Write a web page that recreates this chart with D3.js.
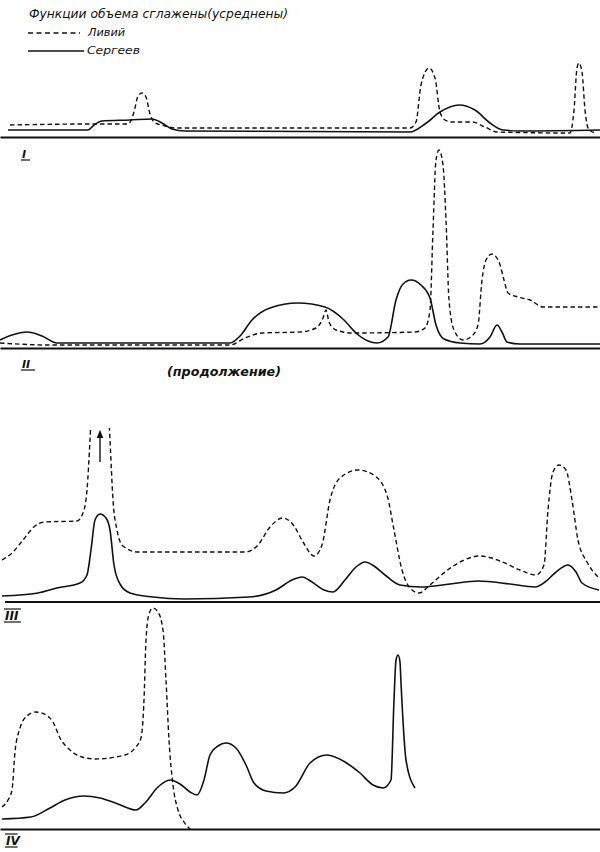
<!DOCTYPE html>
<html><head><meta charset="utf-8">
<script src="https://cdn.jsdelivr.net/npm/d3@7"></script>
<style>
html,body{margin:0;padding:0;background:#fff;}
svg{display:block;}
text{font-family:"DejaVu Sans",sans-serif;font-style:oblique;fill:#111;}
</style></head>
<body>
<script>
// ---- data (x: position units 0..120, y: volume units above baseline) ----
const titleText = "Функции объема сглажены(усреднены)";
const seriesNames = ["Ливий", "Сергеев"];
const panelLabels = ["I", "II", "III", "IV"];
const contText = "(продолжение)";

const livyI = [[2,6],[18,6.5],[25.6,6.5],[26.8,12.5],[27.6,20.5],[28.4,22],[29.2,20],[30,11.5],[30.8,7.5],[33,5.5],[35.2,4.5],[82,4.5],[83.2,7.5],[84.2,26],[85.8,34.5],[87,29.5],[88,12.5],[89,8.5],[90.4,7.5],[94.4,7.5],[97,5],[99.4,2.5],[114,2],[114.8,13.5],[115.4,34.5],[115.8,37],[116.4,32.5],[117,13.5],[117.8,3.5],[119.2,2]];
const sergeevI = [[1.6,3.5],[17.6,3.5],[18.8,6],[20.4,8],[26,8.5],[30.4,9],[32.4,7],[34.4,4],[37,3],[82,2.5],[85,6.5],[88,12.5],[91.8,16],[95,13.5],[98,7],[100.6,3.5],[104,3],[120,3.5]];

const livyII = [[0,2.5],[10,1.5],[46,1.5],[49,5],[52.4,7.5],[60,8],[63.2,10],[64.6,15],[65.2,19],[65.8,13],[67.2,9],[70.4,7.5],[83,8],[85,10],[86,19],[86.6,59],[87.2,94],[87.8,99],[88.6,91.5],[89.2,64],[89.8,24],[90.8,9],[92.6,4],[94.4,6],[95.6,11.5],[96.4,34],[97.2,44],[98.4,47],[99.8,43],[100.8,34],[101.6,27.5],[103.6,25.5],[106,24],[108.6,20.5],[120,20.5]];
const sergeevII = [[0,4],[2.4,6.5],[5.4,8],[8.4,6],[11.4,2.5],[46,2.5],[48,6],[50.4,14],[54,20],[59.6,22.5],[65,20.5],[68.8,14],[71.2,7.5],[73.6,3.5],[75.4,2.5],[77.6,5.5],[79.2,24],[80.6,32],[82.2,34],[84.2,31.5],[86,25],[87.2,11.5],[88.8,4.5],[92,2.5],[96,2],[98,5.5],[99.4,11.5],[100.4,8],[101.4,3],[104,2],[120,2]];

const livyIII = [[0.4,21],[2.4,24.5],[4.6,31],[7,38],[9,40],[15.4,40.5],[16.6,44.5],[17.4,56],[18,81],[18.4,101],[20,136],[21.6,101],[22,81],[22.6,51],[23.4,36],[24.6,28],[27.6,25],[49,25],[51.6,28.5],[54,37.5],[56.6,42],[58.8,38],[60.6,30],[62.8,23],[64.4,28.5],[66,51],[68,62],[71.6,66],[75,63],[77.4,53.5],[78.8,36],[80.4,16],[82,7],[83.8,4.5],[86,8.5],[89,15],[92.4,20.5],[96,23],[100,20.5],[104,16],[107.2,13.5],[108.8,18.5],[109.6,46],[110.6,65],[111.8,68.5],[113.2,66],[114.4,51],[115.6,31],[117.4,20],[119.8,12]];
const sergeevIII = [[0.4,3],[7.6,4.5],[11.4,7],[16,9.5],[17.4,13.5],[18.2,26],[19,41],[20,44],[21.2,42],[22,36],[22.8,18.5],[24,9],[26,4.5],[30.6,2.5],[36.8,1.5],[49.8,2.5],[55.2,6],[58.4,11],[60.4,12.5],[62.4,10],[64.8,6],[66.6,5],[69,11],[71.2,17.5],[73,20],[74.8,18],[77,13.5],[80,8.5],[84.2,7.5],[90,9],[95.6,10.5],[102,9],[107,7.5],[109,10],[111,14.5],[113.6,18.5],[115.2,15],[116.4,9.5],[119.8,6]];
const offScaleIII = {x: 20, from: 70, to: 84};

const livyIV = [[0.4,11],[1.6,14.5],[2.4,19.5],[3,38.5],[4,50.5],[5.4,56.5],[7.2,58.5],[9.2,57],[10.6,53.5],[12,45.5],[14,39.5],[16.4,36],[19,35],[25,37],[27,40.5],[28.2,45.5],[28.8,64.5],[29.2,94.5],[29.8,107.5],[30.6,110.5],[31.6,108.5],[32.6,99.5],[33.2,74.5],[33.8,44.5],[34.6,22],[35.6,9.5],[36.8,3.5],[38,0]];
const sergeevIV = [[0.4,5],[6.2,6],[10,10.5],[13,14.5],[16.8,16.5],[20,15.5],[23.6,12.5],[27.2,9.5],[29,13],[31.6,21],[34,24.5],[36,22.5],[38,18.5],[39.4,17],[40.8,24.5],[42,37],[43.6,41.5],[45.2,43],[47.2,40.5],[49.2,32],[50.8,23],[53.2,19],[56.6,18],[59.2,21.5],[62,33],[65.4,37],[69,33.5],[72,28],[74.6,22],[76.6,20.5],[78.2,24.5],[78.8,64.5],[79.2,84.5],[79.6,87],[80,83.5],[80.2,73],[81.2,34.5],[83,20.5]];

// ---- layout ----
const W = 600, H = 852;
const panels = [
  {label: panelLabels[0], base: 137, top: 60,  livy: livyI,   serg: sergeevI,   lab:[22,158], bars:"under"},
  {label: panelLabels[1], base: 348, top: 140, livy: livyII,  serg: sergeevII,  lab:[22,368], bars:"under"},
  {label: panelLabels[2], base: 602, top: 428, livy: livyIII, serg: sergeevIII, lab:[5,620],  bars:"both"},
  {label: panelLabels[3], base: 829, top: 600, livy: livyIV,  serg: sergeevIV,  lab:[6,845],  bars:"both"}
];

const svg = d3.select("body").append("svg").attr("width", W).attr("height", H);
const x = d3.scaleLinear().domain([0, 120]).range([0, W]);

const defs = svg.append("defs");
defs.append("marker").attr("id","arr").attr("viewBox","0 0 10 10").attr("refX",5).attr("refY",5)
  .attr("markerWidth",6).attr("markerHeight",8).attr("orient","auto")
  .append("path").attr("d","M0,1 L10,5 L0,9 Z").attr("fill","#111");

// title and legend
svg.append("text").attr("x", 29).attr("y", 18).attr("font-size", 12)
  .attr("textLength", 259).attr("lengthAdjust","spacingAndGlyphs").text(titleText);
const legY = [33, 51];
const legStyle = [{dash:"5,3.5"},{dash:null}];
seriesNames.forEach((n,i)=>{
  const l = svg.append("line").attr("x1",28).attr("x2",i?84:80).attr("y1",legY[i]).attr("y2",legY[i])
    .attr("stroke","#111").attr("stroke-width",1.3);
  if (legStyle[i].dash) l.attr("stroke-dasharray",legStyle[i].dash);
  svg.append("text").attr("x", i?87:88).attr("y", legY[i]+3).attr("font-size",11)
    .attr("textLength", i?53:37).attr("lengthAdjust","spacingAndGlyphs").text(n);
});

const line = d3.line().curve(d3.curveMonotoneX);

panels.forEach((p,i)=>{
  const y = d3.scaleLinear().domain([0,100]).range([p.base, p.base-200]);
  line.x(d=>x(d[0])).y(d=>y(d[1]));
  const g = svg.append("g");
  // baseline axis
  const ax = g.append("g").attr("transform",`translate(0,${p.base})`)
    .call(d3.axisBottom(x).tickValues([]).tickSizeOuter(0));
  ax.select(".domain").attr("stroke","#111").attr("stroke-width",1.8);
  if (i===2) ax.select(".domain").attr("d", `M${x(1)},0H${x(120)}`);

  const clipId = "clip"+i;
  defs.append("clipPath").attr("id",clipId).append("rect")
    .attr("x",0).attr("y",p.top).attr("width",W).attr("height",p.base - p.top + 20);

  g.append("path").datum(p.livy).attr("d", line).attr("fill","none")
    .attr("stroke","#111").attr("stroke-width",1.4).attr("stroke-dasharray","4.5,3")
    .attr("clip-path",`url(#${clipId})`);
  g.append("path").datum(p.serg).attr("d", line).attr("fill","none")
    .attr("stroke","#111").attr("stroke-width",1.6);

  // panel label
  const t = g.append("text").attr("x",p.lab[0]).attr("y",p.lab[1]).attr("font-size", i<2?11:12)
    .attr("font-family","Liberation Serif, serif").attr("font-weight","bold").text(p.label);
  const tw = p.label.length * (i<2?5:4.3) + 3;
  g.append("line").attr("x1",p.lab[0]-1).attr("x2",p.lab[0]+tw).attr("y1",p.lab[1]+2).attr("y2",p.lab[1]+2)
    .attr("stroke","#111").attr("stroke-width",1.2);
  if (p.bars==="both") g.append("line").attr("x1",p.lab[0]-1).attr("x2",p.lab[0]+tw)
    .attr("y1",p.lab[1]-11).attr("y2",p.lab[1]-11).attr("stroke","#111").attr("stroke-width",1.2);

  if (i===2) {
    g.append("line").attr("x1",x(offScaleIII.x)).attr("x2",x(offScaleIII.x))
      .attr("y1",y(offScaleIII.from)).attr("y2",y(offScaleIII.to))
      .attr("stroke","#111").attr("stroke-width",1.4).attr("marker-end","url(#arr)");
  }
});

svg.append("text").attr("x",167).attr("y",376).attr("font-size",12).attr("font-weight","bold")
  .attr("textLength",114).attr("lengthAdjust","spacingAndGlyphs").text(contText);
</script>
</body></html>
